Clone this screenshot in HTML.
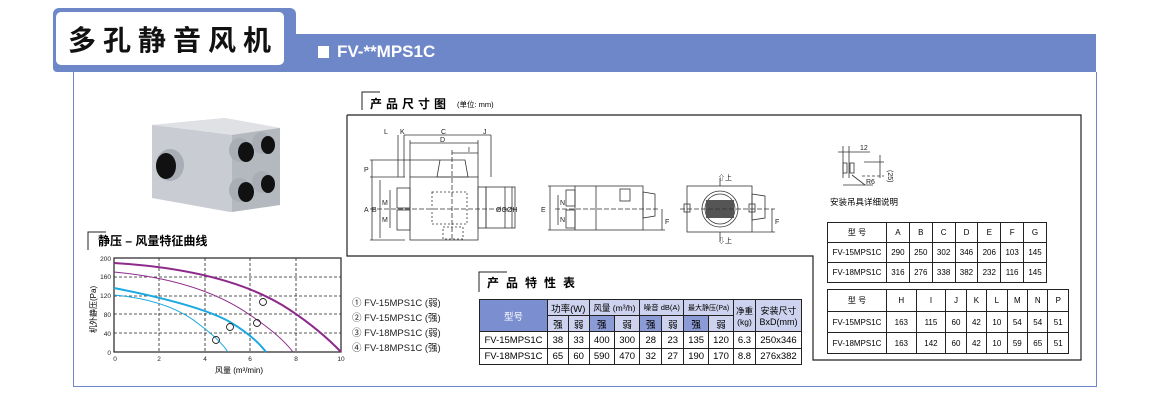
<!DOCTYPE html>
<html><head><meta charset="utf-8"><style>
body{margin:0;width:1163px;height:401px;background:#fff;position:relative;overflow:hidden;font-family:"Liberation Sans","Noto Sans CJK SC",sans-serif;}
.a{position:absolute;}
table{border-collapse:collapse;position:absolute;font-size:9.5px;text-align:center;}
td{border:1px solid #222;padding:0;}
</style></head><body>
<!-- header -->
<div class="a" style="left:295px;top:34px;width:801px;height:38px;background:#6e87c8"></div>
<div class="a" style="left:53px;top:8px;width:243px;height:64px;background:#6e87c8;border-radius:6px 6px 0 4px"></div>
<div class="a" style="left:56px;top:12px;width:228px;height:53px;background:#fff;border-radius:5px"></div>
<div class="a" style="left:68px;top:19px;font-size:28px;font-weight:bold;letter-spacing:7px;color:#111;font-family:'Noto Sans CJK SC',sans-serif;line-height:40px;white-space:nowrap">多孔静音风机</div>
<div class="a" style="left:318px;top:46px;width:11px;height:12px;background:#fff"></div>
<div class="a" style="left:337px;top:40px;font-size:17px;font-weight:bold;color:#fff;line-height:24px">FV-**MPS1C</div>
<div class="a" style="left:73px;top:72px;width:1px;height:315px;background:#6e87c8"></div>
<div class="a" style="left:1096px;top:72px;width:1px;height:315px;background:#6e87c8"></div>
<div class="a" style="left:73px;top:386px;width:1024px;height:1px;background:#6e87c8"></div>

<svg class="a" style="left:0;top:0" width="1163" height="401" font-family="Liberation Sans, Noto Sans CJK SC, sans-serif">
<!-- photo -->
<polygon points="152,125 225,118 280,128 280,205 230,212 152,198" fill="#c9ccd2"/>
<polygon points="152,125 225,118 280,128 232,135" fill="#dfe1e5"/>
<polygon points="232,135 280,128 280,205 232,212" fill="#b4b8bf"/>
<ellipse cx="170" cy="165" rx="14" ry="16" fill="#a9adb5"/><ellipse cx="166" cy="166" rx="10" ry="13" fill="#111"/>
<ellipse cx="240" cy="150" rx="11" ry="12" fill="#a9adb5"/><ellipse cx="246" cy="152" rx="8" ry="10" fill="#111"/>
<ellipse cx="262" cy="143" rx="10" ry="11" fill="#a9adb5"/><ellipse cx="268" cy="145" rx="7" ry="9" fill="#111"/>
<ellipse cx="240" cy="190" rx="11" ry="12" fill="#a9adb5"/><ellipse cx="246" cy="192" rx="8" ry="10" fill="#111"/>
<ellipse cx="262" cy="182" rx="10" ry="11" fill="#a9adb5"/><ellipse cx="268" cy="184" rx="7" ry="9" fill="#111"/>

<!-- drawing frame -->
<polyline points="347,115 1081,115 1081,360 813,360 813,256 347,256 347,115" fill="none" stroke="#222" stroke-width="1.2"/>
<polyline points="362,110 362,92 380,92" fill="none" stroke="#222"/>
<text x="370" y="108" font-size="12" font-weight="bold" letter-spacing="4">产品尺寸图</text>
<text x="457" y="107" font-size="7.5">(单位: mm)</text>
<g stroke="#333" stroke-width="0.8" fill="none">
<rect x="410" y="177" width="68" height="63"/>
<polygon points="437,177 440,160 465,160 468,177"/>
<rect x="478" y="187" width="8" height="41"/><rect x="486" y="187" width="29" height="41"/>
<rect x="397" y="188" width="13" height="20"/><rect x="397" y="210" width="13" height="20"/>
<rect x="432" y="192" width="35" height="32" stroke-dasharray="2,2"/>
<rect x="443" y="227" width="20" height="12" stroke-dasharray="2,2"/>
<line x1="370" y1="209" x2="515" y2="209" stroke-dasharray="5,2"/>
<line x1="452" y1="150" x2="452" y2="240" stroke-dasharray="5,2"/>
<line x1="370" y1="177" x2="405" y2="177"/><line x1="370" y1="240" x2="405" y2="240"/>
<line x1="370" y1="160" x2="440" y2="160"/>
<line x1="372" y1="160" x2="372" y2="177"/><line x1="372" y1="177" x2="372" y2="240"/>
<line x1="380" y1="180" x2="380" y2="238"/><line x1="390" y1="190" x2="390" y2="228"/>
<line x1="398" y1="135" x2="398" y2="177"/><line x1="404" y1="135" x2="404" y2="177"/>
<line x1="410" y1="140" x2="410" y2="177"/><line x1="478" y1="140" x2="478" y2="177"/>
<line x1="491" y1="135" x2="491" y2="177"/>
<line x1="404" y1="135" x2="491" y2="135"/><line x1="410" y1="143" x2="478" y2="143"/>
<line x1="452" y1="153" x2="478" y2="153"/>
<line x1="505" y1="187" x2="505" y2="228"/><line x1="512" y1="187" x2="512" y2="228"/>
<rect x="575" y="186" width="68" height="44"/>
<line x1="596" y1="186" x2="596" y2="230"/>
<rect x="566" y="190" width="9" height="16"/><rect x="566" y="210" width="9" height="18"/>
<polygon points="643,192 655,194 655,216 643,218"/>
<rect x="620" y="189" width="10" height="12"/>
<line x1="548" y1="186" x2="575" y2="186"/><line x1="548" y1="230" x2="575" y2="230"/>
<line x1="550" y1="186" x2="550" y2="230"/><line x1="558" y1="195" x2="558" y2="225"/>
<line x1="555" y1="209" x2="660" y2="209" stroke-dasharray="5,2"/>
<line x1="662" y1="209" x2="662" y2="230"/><line x1="643" y1="230" x2="665" y2="230"/>
<rect x="687" y="186" width="65" height="46"/>
<circle cx="720" cy="209" r="18"/><circle cx="720" cy="209" r="15"/>
<rect x="706" y="200" width="28" height="18" fill="#555" stroke="none"/>
<polygon points="752,194 765,196 765,218 752,220"/>
<rect x="684" y="204" width="6" height="8"/><rect x="749" y="204" width="6" height="8"/>
<line x1="680" y1="209" x2="775" y2="209" stroke-dasharray="5,2"/>
<line x1="772" y1="209" x2="772" y2="232"/><line x1="752" y1="232" x2="775" y2="232"/>
<line x1="720" y1="178" x2="720" y2="186"/><line x1="720" y1="232" x2="720" y2="241"/>
<line x1="838" y1="152" x2="870" y2="152"/><line x1="843" y1="146" x2="843" y2="178"/><line x1="849" y1="146" x2="849" y2="178"/>
<rect x="843" y="163" width="4" height="10"/><rect x="850" y="163" width="4" height="10"/>
<line x1="864" y1="162" x2="884" y2="162"/><line x1="862" y1="176" x2="884" y2="176" stroke-dasharray="3,2"/>
<line x1="880" y1="155" x2="880" y2="178"/>
<line x1="852" y1="175" x2="865" y2="185"/><line x1="843" y1="185" x2="873" y2="185"/>
</g>
<g font-size="7" fill="#222">
<text x="384" y="134">L</text><text x="400" y="134">K</text><text x="441" y="134">C</text><text x="483" y="134">J</text>
<text x="440" y="142">D</text><text x="468" y="152">I</text>
<text x="364" y="172">P</text><text x="364" y="212">A</text><text x="372" y="212">B</text><text x="382" y="205">M</text><text x="382" y="222">M</text>
<text x="496" y="212">ØG</text><text x="507" y="212">ØH</text>
<text x="541" y="212">E</text><text x="560" y="205">N</text><text x="560" y="222">N</text><text x="665" y="224">F</text>
<text x="718" y="180">⇧上</text><text x="718" y="243">⇩上</text><text x="775" y="224">F</text>
<text x="860" y="150">12</text><text x="888" y="170" transform="rotate(90 888 170)">(25)</text><text x="866" y="184">R6</text>
</g>
<text x="830" y="205" font-size="8.5">安装吊具详细说明</text>

<polyline points="88,250 88,232 106,232" fill="none" stroke="#222"/>
<text x="98" y="245" font-size="12" font-weight="bold">静压 – 风量特征曲线</text>
<g stroke="#222" stroke-width="0.8" stroke-dasharray="3,2">
<line x1="159" y1="258" x2="159" y2="352"/><line x1="205" y1="258" x2="205" y2="352"/><line x1="250" y1="258" x2="250" y2="352"/><line x1="296" y1="258" x2="296" y2="352"/>
<line x1="114" y1="277" x2="341" y2="277"/><line x1="114" y1="296" x2="341" y2="296"/><line x1="114" y1="314" x2="341" y2="314"/><line x1="114" y1="333" x2="341" y2="333"/>
</g>
<rect x="114" y="258" width="227" height="94" fill="none" stroke="#222" stroke-width="1.2"/>
<g font-size="6.5" fill="#222" text-anchor="end">
<text x="111" y="261">200</text><text x="111" y="279">160</text><text x="111" y="298">120</text><text x="111" y="317">80</text><text x="111" y="336">40</text><text x="111" y="355">0</text>
</g>
<g font-size="6.5" fill="#222" text-anchor="middle">
<text x="115" y="361">0</text><text x="159" y="361">2</text><text x="205" y="361">4</text><text x="250" y="361">6</text><text x="296" y="361">8</text><text x="341" y="361">10</text>
</g>
<text x="215" y="373" font-size="8">风量 (m³/min)</text>
<text x="96" y="333" font-size="8" transform="rotate(-90 96 333)">机外静压(Pa)</text>
<g fill="none">
<path d="M114,263 Q230,270 290,310 Q320,330 341,352" stroke="#8e2a8c" stroke-width="2"/>
<path d="M114,272 Q200,280 250,315 Q280,335 293,352" stroke="#8e2a8c" stroke-width="1"/>
<path d="M114,288 Q200,305 230,322 Q255,337 266,352" stroke="#1aa9e0" stroke-width="2"/>
<path d="M114,295 Q170,300 200,325 Q220,340 228,352" stroke="#1aa9e0" stroke-width="1"/>
<g stroke="#222" stroke-width="0.9"><circle cx="216" cy="340" r="3.5"/><circle cx="230" cy="327" r="3.5"/><circle cx="257" cy="323" r="3.5"/><circle cx="263" cy="302" r="3.5"/></g>
</g>
<g font-size="9.5" fill="#222">
<text x="352" y="306">① FV-15MPS1C (弱)</text><text x="352" y="321">② FV-15MPS1C (强)</text><text x="352" y="336">③ FV-18MPS1C (弱)</text><text x="352" y="351">④ FV-18MPS1C (强)</text>
</g>
<polyline points="479,292 479,272 507,272" fill="none" stroke="#222"/>
<text x="487" y="287" font-size="12" font-weight="bold" letter-spacing="7">产品特性表</text>
</svg>

<table style="left:479px;top:299px;width:323px">
<tr style="height:16px;background:#cdd3ee"><td rowspan="2" style="width:67px;background:#7b8fd0;color:#fff">型号</td><td colspan="2">功率(W)</td><td colspan="2" style="font-size:8.5px">风量 (m³/h)</td><td colspan="2" style="font-size:7.5px">噪音 dB(A)</td><td colspan="2" style="font-size:7px">最大静压(Pa)</td><td rowspan="2" style="width:21px;font-size:8.5px">净重<br>(kg)</td><td rowspan="2" style="font-size:9px">安装尺寸<br>BxD(mm)</td></tr>
<tr style="height:16px;background:#cdd3ee"><td>强</td><td>弱</td><td style="background:#8b9bd6">强</td><td>弱</td><td style="background:#8b9bd6">强</td><td>弱</td><td style="background:#8b9bd6">强</td><td>弱</td></tr>
<tr style="height:17px"><td>FV-15MPS1C</td><td>38</td><td>33</td><td>400</td><td>300</td><td>28</td><td>23</td><td>135</td><td>120</td><td>6.3</td><td>250x346</td></tr>
<tr style="height:16px"><td>FV-18MPS1C</td><td>65</td><td>60</td><td>590</td><td>470</td><td>32</td><td>27</td><td>190</td><td>170</td><td>8.8</td><td>276x382</td></tr>
</table>

<table style="left:827px;top:222px;width:220px;font-size:8px">
<tr style="height:20px"><td style="width:58px">型 号</td><td>A</td><td>B</td><td>C</td><td>D</td><td>E</td><td>F</td><td>G</td></tr>
<tr style="height:20px"><td>FV-15MPS1C</td><td>290</td><td>250</td><td>302</td><td>346</td><td>206</td><td>103</td><td>145</td></tr>
<tr style="height:20px"><td>FV-18MPS1C</td><td>316</td><td>276</td><td>338</td><td>382</td><td>232</td><td>116</td><td>145</td></tr>
</table>
<table style="left:827px;top:289px;width:242px;font-size:8px">
<tr style="height:22px"><td style="width:58px">型 号</td><td>H</td><td>I</td><td>J</td><td>K</td><td>L</td><td>M</td><td>N</td><td>P</td></tr>
<tr style="height:21px"><td>FV-15MPS1C</td><td>163</td><td>115</td><td>60</td><td>42</td><td>10</td><td>54</td><td>54</td><td>51</td></tr>
<tr style="height:21px"><td>FV-18MPS1C</td><td>163</td><td>142</td><td>60</td><td>42</td><td>10</td><td>59</td><td>65</td><td>51</td></tr>
</table>
</body></html>
